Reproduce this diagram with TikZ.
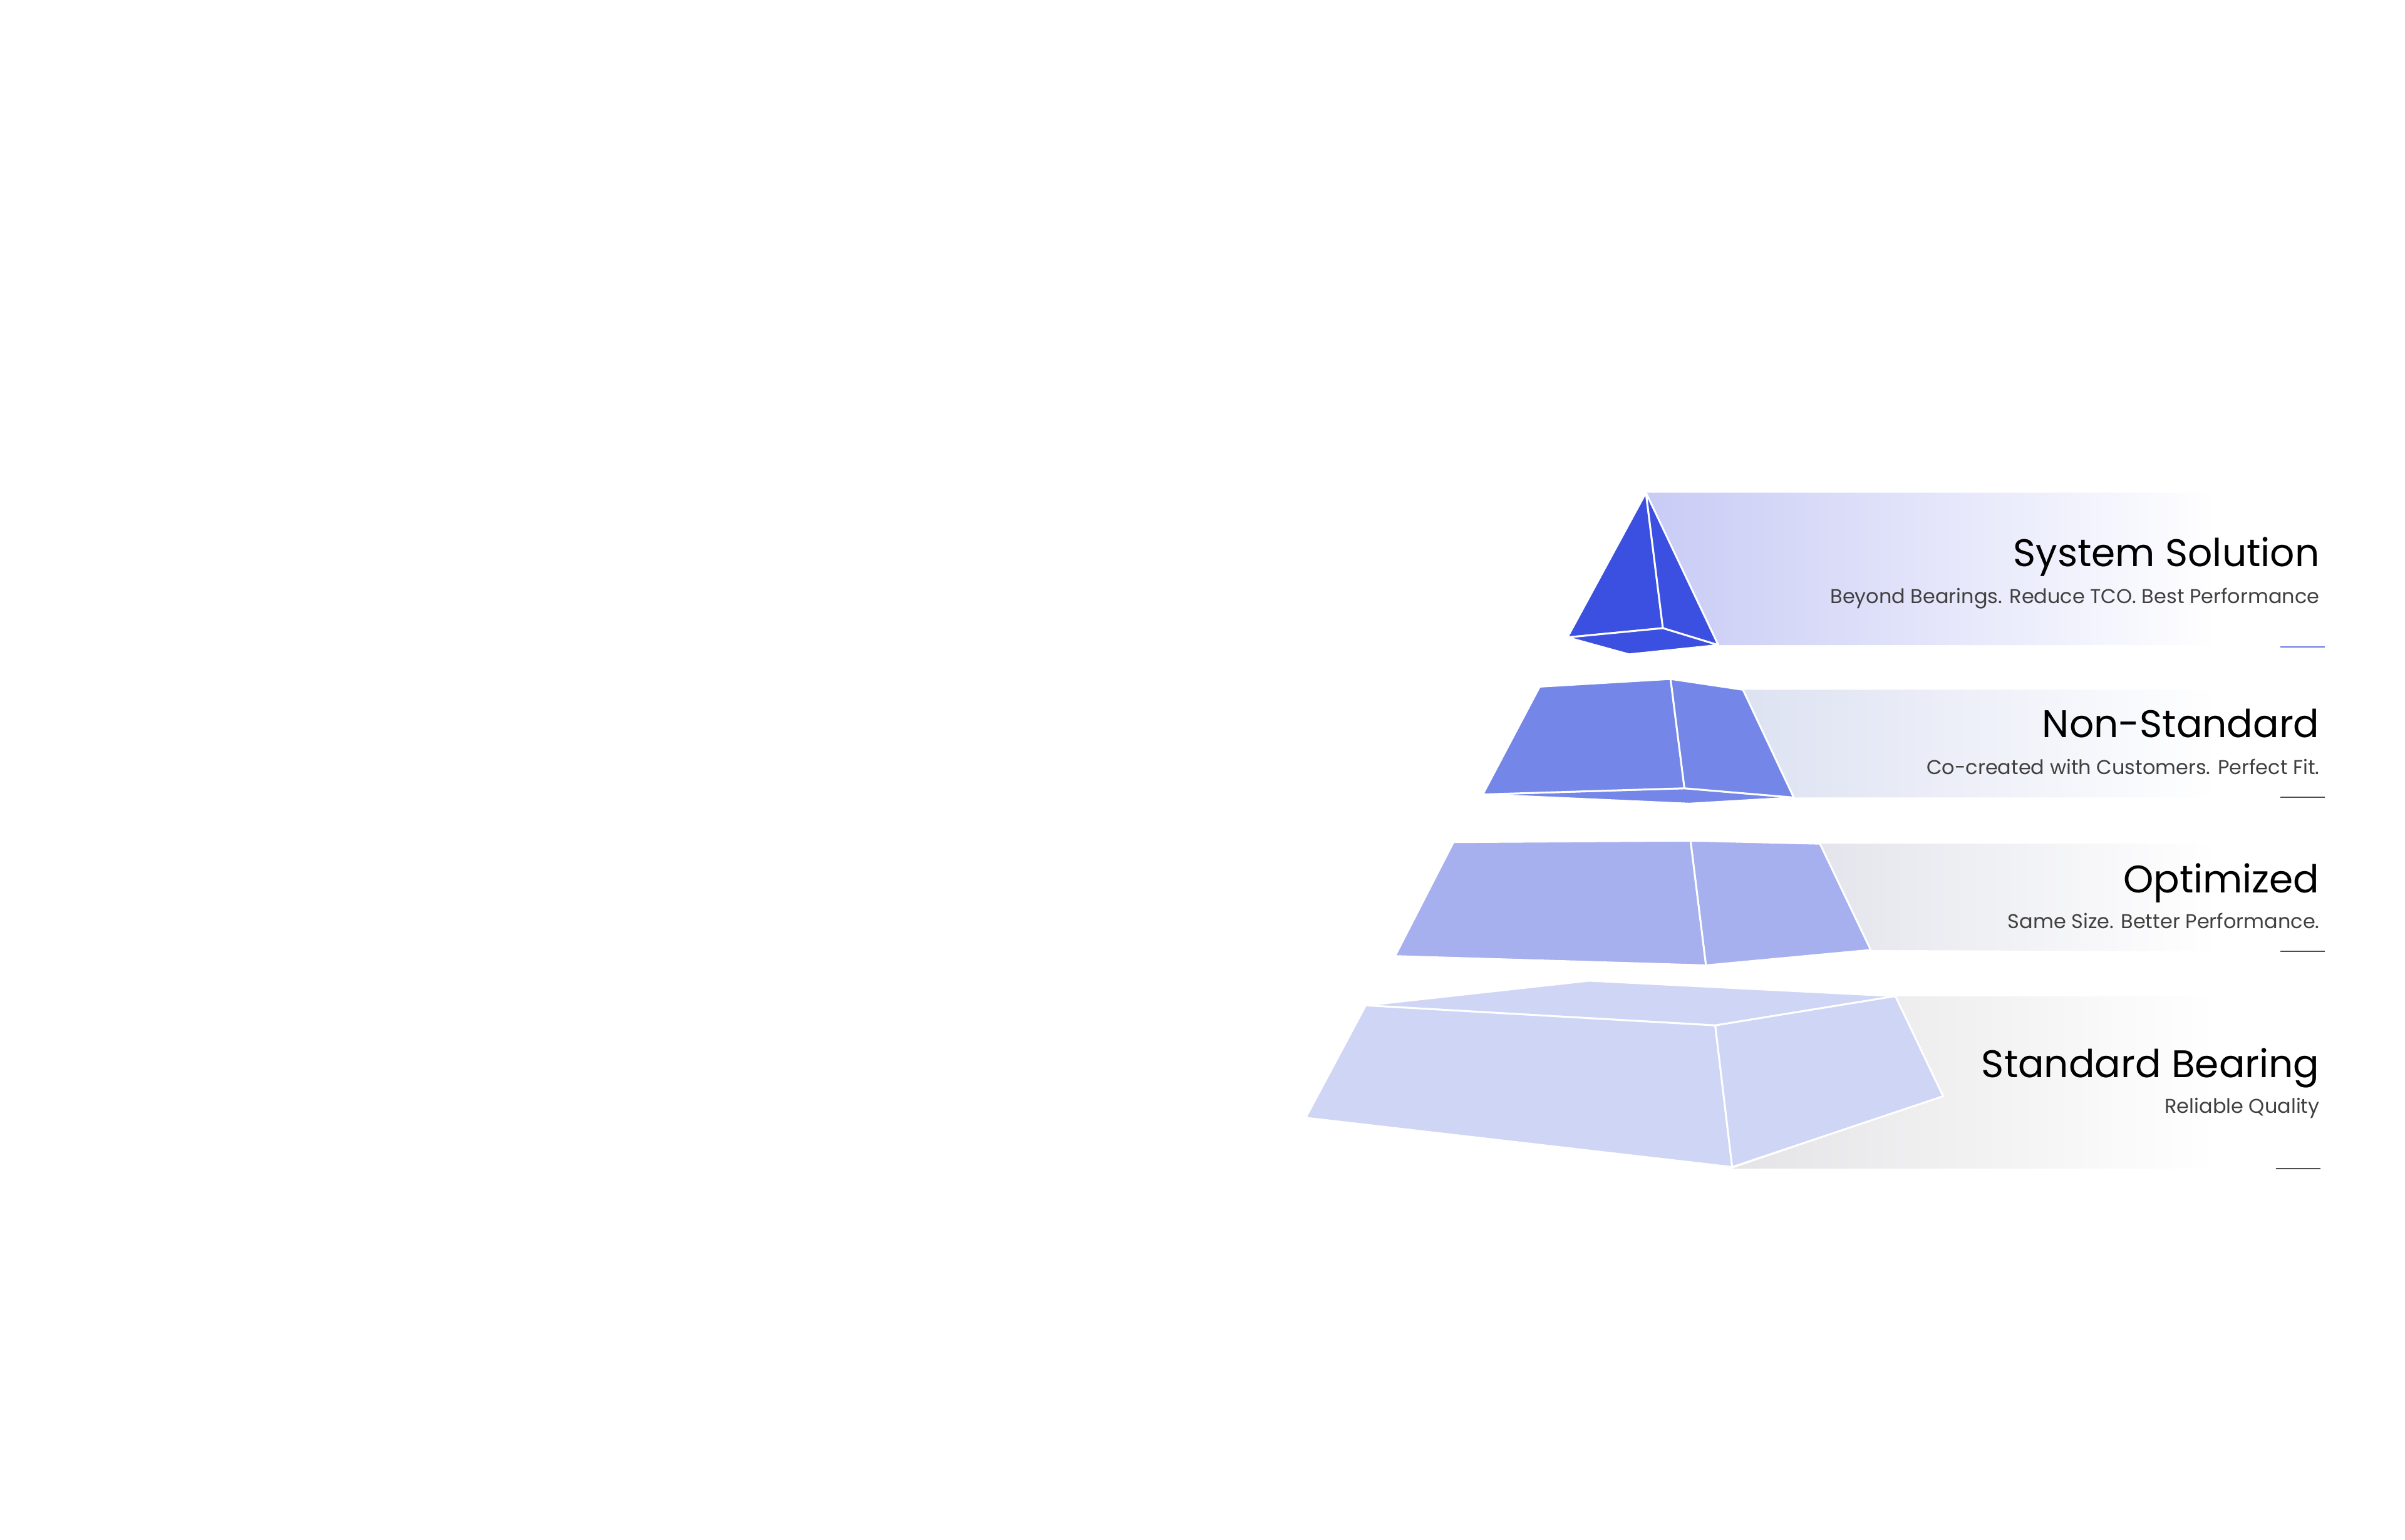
\documentclass[tikz,border=0pt]{standalone}
\usepackage{fontspec}
\setmainfont{Poppins}
\definecolor{c1}{HTML}{3B50E0}\definecolor{c2}{HTML}{7486E8}
\definecolor{c3}{HTML}{A7B0EE}\definecolor{c4}{HTML}{CFD5F5}
\definecolor{g1}{HTML}{C8CBF5}\definecolor{g2}{HTML}{DDE2F2}
\definecolor{g3}{HTML}{E4E5EC}\definecolor{g4}{HTML}{E4E4E6}
\definecolor{tk}{HTML}{6E78DC}
\begin{document}
\begin{tikzpicture}[x=1pt,y=-1pt,
  face/.style={draw=white,line width=1.2pt,line join=round},
  ttl/.style={anchor=base east,font=\fontsize{25}{28}\selectfont,text=black},
  sub/.style={anchor=base east,font=\fontsize{13}{15}\selectfont\addfontfeatures{Weight=300},text=black!75},
  tick/.style={line width=0.8pt}]
\useasboundingbox (0,0) rectangle (1562,1000);
% bands
\shade[left color=g1,right color=white] (1069,320) -- (1440,320) -- (1440,419) -- (1116,419) -- cycle;
\shade[left color=g2,right color=white] (1132,448) -- (1440,448) -- (1440,518) -- (1165,518) -- cycle;
\shade[left color=g3,right color=white] (1182,548) -- (1440,548) -- (1440,618) -- (1215,617) -- cycle;
\shade[left color=g4,right color=white] (1231,647) -- (1440,647) -- (1440,759) -- (1125,759) -- (1262,712) -- cycle;
% top pyramid
\coordinate (ta) at (1069,320); \coordinate (tl) at (1018,414); \coordinate (tf) at (1080,408);
\coordinate (tr) at (1116,419); \coordinate (tb) at (1058,425);
\filldraw[face,fill=c1] (ta) -- (tl) -- (tf) -- cycle;
\filldraw[face,fill=c1] (ta) -- (tf) -- (tr) -- cycle;
\filldraw[face,fill=c1] (tl) -- (tf) -- (tr) -- (tb) -- cycle;
% non-standard
\coordinate (a1) at (1000,446); \coordinate (a2) at (1085,441); \coordinate (a3) at (1132,448);
\coordinate (a4) at (963,516); \coordinate (a5) at (1094,512); \coordinate (a6) at (1165,518); \coordinate (a7) at (1097,522);
\filldraw[face,fill=c2] (a4) -- (a5) -- (a6) -- (a7) -- cycle;
\filldraw[face,fill=c2] (a1) -- (a2) -- (a5) -- (a4) -- cycle;
\filldraw[face,fill=c2] (a2) -- (a3) -- (a6) -- (a5) -- cycle;
% optimized
\coordinate (b1) at (944,547); \coordinate (b2) at (1098,546); \coordinate (b3) at (1182,548);
\coordinate (b4) at (906,621); \coordinate (b5) at (1108,627); \coordinate (b6) at (1215,617);
\filldraw[face,fill=c3] (b1) -- (b2) -- (b5) -- (b4) -- cycle;
\filldraw[face,fill=c3] (b2) -- (b3) -- (b6) -- (b5) -- cycle;
% standard
\coordinate (s1) at (887,653); \coordinate (s2) at (1032,637); \coordinate (s3) at (1231,647);
\coordinate (s4) at (1114,666); \coordinate (s5) at (1125,758); \coordinate (s6) at (848,726); \coordinate (s7) at (1262,712);
\filldraw[face,fill=c4] (s1) -- (s2) -- (s3) -- (s4) -- cycle;
\filldraw[face,fill=c4] (s1) -- (s4) -- (s5) -- (s6) -- cycle;
\filldraw[face,fill=c4] (s4) -- (s3) -- (s7) -- (s5) -- cycle;
% texts
\node[ttl] (t1) at (1510,368) {System Solution};
\node[sub] (u1) at (1510,392) {Beyond Bearings. Reduce TCO. Best Performance};
\node[ttl] (t2) at (1510,479) {Non-Standard};
\node[sub] (u2) at (1510,503) {Co-created with Customers. Perfect Fit.};
\node[ttl] (t3) at (1510,580) {Optimized};
\node[sub] (u3) at (1510,603) {Same Size. Better Performance.};
\node[ttl] (t4) at (1510,700) {Standard Bearing};
\node[sub] (u4) at (1510,723) {Reliable Quality};
% ticks
\draw[tick,draw=tk] (1481,420) -- (1510,420);
\draw[tick,draw=black!70] (1481,518) -- (1510,518);
\draw[tick,draw=black!70] (1481,618) -- (1510,618);
\draw[tick,draw=black!70] (1478,759) -- (1507,759);
\end{tikzpicture}
\end{document}
